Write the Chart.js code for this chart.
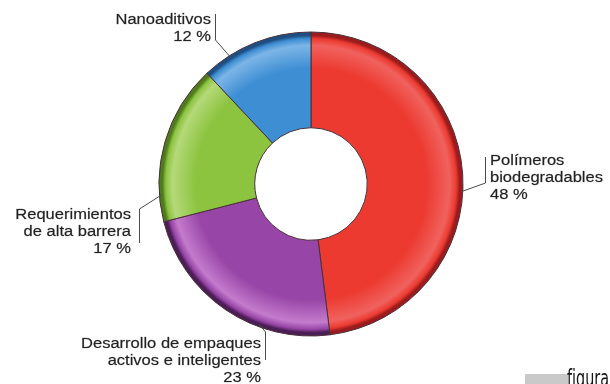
<!DOCTYPE html>
<html lang="es">
<head>
  <meta charset="UTF-8">
  <title>Tendencias en empaques</title>
  <style>
    body {
      margin: 0;
      padding: 0;
      background-color: #fff;
    }
    .chart-box {
      position: relative;
      width: 610px;
      height: 384px;
    }
  </style>
</head>
<body>
  <div class="chart-box">
    <canvas id="trendChart"></canvas>
  </div>

  <script src="https://cdn.jsdelivr.net/npm/chart.js"></script>
  <script>
    // Data: share of each research line (%)
    const categories = [
      ['Polímeros', 'biodegradables'],
      ['Desarrollo de empaques', 'activos e inteligentes'],
      ['Requerimientos', 'de alta barrera'],
      ['Nanoaditivos']
    ];
    const shares = [48, 23, 17, 12];

    // slice colours: base, highlight near the rim, dark rim
    const baseColors = ['#ec3a30', '#9745a6', '#8cc43f', '#3e8ed4'];
    const lightColors = ['#f0625e', '#c47bcd', '#b5d97a', '#7cb5e6'];
    const rimColors = ['#9c1b1d', '#4b1e55', '#4f7a1e', '#1f4f82'];

    const OUTER_R = 152;
    const CUT = 0.37;

    // callout layout: text anchor, bracket and where the leader meets the ring (deg)
    const callouts = [
      { align: 'left',  x: 490, y: 165, bx: 485, by1: 157, by2: 183, elbow: 'bottom', angle: 3 },
      { align: 'right', x: 261, y: 348, bx: 265, by1: 332, by2: 360, elbow: 'top', angle: 110 },
      { align: 'right', x: 131, y: 219, bx: 139, by1: 209, by2: 243, elbow: 'top', angle: 175.8 },
      { align: 'right', x: 211, y: 24,  bx: 215, by1: 14,  by2: 40,  elbow: 'bottom', angle: -122.4 }
    ];

    function sliceFill(context) {
      const chart = context.chart;
      const area = chart.chartArea;
      const i = context.dataIndex;
      if (!area) return baseColors[i];
      const cx = (area.left + area.right) / 2;
      const cy = (area.top + area.bottom) / 2;
      const g = chart.ctx.createRadialGradient(cx, cy, OUTER_R * CUT, cx, cy, OUTER_R);
      g.addColorStop(0, baseColors[i]);
      g.addColorStop(0.62, baseColors[i]);
      g.addColorStop(0.86, lightColors[i]);
      g.addColorStop(0.93, baseColors[i]);
      g.addColorStop(0.965, rimColors[i]);
      g.addColorStop(1, rimColors[i]);
      return g;
    }

    function stretchedText(ctx, str, x, y, align, sx, weight) {
      ctx.save();
      ctx.translate(x, y);
      ctx.scale(sx, 1);
      ctx.textAlign = align;
      ctx.fillText(str, 0, 0);
      if (weight) {
        ctx.lineWidth = weight;
        ctx.strokeText(str, 0, 0);
      }
      ctx.restore();
    }

    const calloutPlugin = {
      id: 'callouts',
      afterDatasetsDraw(chart) {
        const ctx = chart.ctx;
        const meta = chart.getDatasetMeta(0);
        ctx.save();
        ctx.font = '14px "Liberation Sans", Arial, sans-serif';
        ctx.textBaseline = 'alphabetic';

        callouts.forEach((c, i) => {
          const arc = meta.data[i];
          const a = c.angle * Math.PI / 180;
          const ex = arc.x + Math.cos(a) * (arc.outerRadius - 2);
          const ey = arc.y + Math.sin(a) * (arc.outerRadius - 2);
          const ey0 = c.elbow === 'top' ? c.by1 : c.by2;

          // bracket + leader
          ctx.strokeStyle = '#4a4a4a';
          ctx.lineWidth = 1;
          ctx.beginPath();
          ctx.moveTo(c.bx + 0.5, c.by1);
          ctx.lineTo(c.bx + 0.5, c.by2);
          ctx.stroke();
          ctx.beginPath();
          ctx.moveTo(c.bx + 0.5, ey0);
          ctx.lineTo(ex, ey);
          ctx.stroke();

          ctx.fillStyle = '#222';
          ctx.strokeStyle = 'rgba(34,34,34,0.45)';
          const lines = categories[i].concat([shares[i] + ' %']);
          lines.forEach((txt, k) => {
            stretchedText(ctx, txt, c.x, c.y + k * 17, c.align, 1.18, 0.4);
          });
        });
        ctx.restore();
      },
      afterDraw(chart) {
        // caption tab in the corner
        const ctx = chart.ctx;
        ctx.save();
        ctx.fillStyle = '#c9c9c9';
        ctx.fillRect(525, 374, 43, 10);
        ctx.fillStyle = '#141414';
        ctx.font = '23px "Liberation Sans Narrow", "DejaVu Sans Condensed", sans-serif';
        const w = ctx.measureText('figura').width;
        stretchedText(ctx, 'figura', 567, 386, 'left', 42 / w);
        ctx.restore();
      }
    };

    const ctx = document.getElementById('trendChart').getContext('2d');
    const trendChart = new Chart(ctx, {
      type: 'doughnut',
      data: {
        labels: categories.map(l => l.join(' ')),
        datasets: [{
          data: shares,
          backgroundColor: sliceFill,
          borderColor: '#4a3038',
          borderWidth: 1
        }]
      },
      options: {
        responsive: true,
        maintainAspectRatio: false,
        animation: false,
        radius: OUTER_R,
        cutout: (CUT * 100) + '%',
        layout: {
          padding: { left: 12, right: 0, top: 0, bottom: 16 }
        },
        plugins: {
          legend: { display: false },
          tooltip: { enabled: false }
        }
      },
      plugins: [calloutPlugin]
    });
  </script>
</body>
</html>
